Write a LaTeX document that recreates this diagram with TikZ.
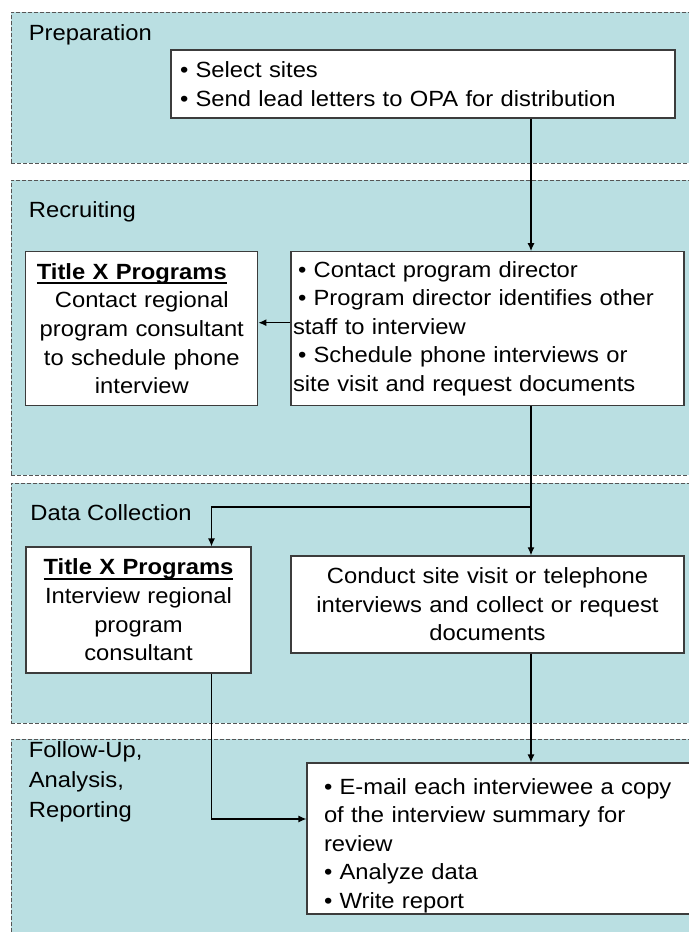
\documentclass[tikz,border=0pt]{standalone}
\usepackage{fontspec}
\setmainfont{Liberation Sans}[FakeStretch=1.08]
\usetikzlibrary{arrows.meta, positioning}
\definecolor{lanefill}{RGB}{186,223,226}
\definecolor{laneline}{RGB}{85,85,85}
\definecolor{boxline}{RGB}{60,60,60}
\newcommand{\bul}{\hspace*{2.5pt}\textbullet\ }
\newcommand{\progtitle}{\setbox0\hbox{\textbf{Title X Programs}}\rlap{\rule[-2.35pt]{\wd0}{1pt}}\box0}

\begin{document}
\begin{tikzpicture}[
    x=0.5pt, y=-0.5pt,
    lane/.style={draw=laneline, line width=0.5pt, dash pattern=on 2pt off 1pt, fill=lanefill, anchor=north west, minimum width=347pt, inner sep=0pt, outer sep=0pt},
    lanelabel/.style={anchor=base west, inner sep=0pt, align=left, font=\fontsize{11}{15}\selectfont},
    box/.style={draw=boxline, line width=0.6pt, fill=white, inner ysep=0pt, font=\fontsize{11}{14.3}\selectfont},
    arrow/.style={-{Latex[length=4pt, width=3.5pt]}, line width=0.6pt}
  ]
  \clip (0,0) rectangle (689,932);

  % swim lanes
  \node[lane, minimum height=75.5pt] (prepLane) at (11,12) {};
  \node[lane, minimum height=147.5pt] (recLane) at (11,180) {};
  \node[lane, minimum height=120pt] (dataLane) at (11,483) {};
  \node[lane, minimum height=105.5pt] (followLane) at (11,739) {};

  \node[lanelabel] (prepLbl) at (28.5,40) {Preparation};
  \node[lanelabel] (recLbl) at (28.5,217) {Recruiting};
  \node[lanelabel] (dataLbl) at (30,520) {Data Collection};
  \node[lanelabel] (followLbl) at (28.5,817) {Follow-Up,\\Analysis,\\Reporting};

  % steps
  \node[box, text width=243pt, inner xsep=4.5pt, minimum height=34pt, align=left] (prep) at (423,84)
    {\textbullet\ Select sites\\\textbullet\ Send lead letters to OPA for distribution};
  \node[box, text width=194.5pt, inner xsep=1pt, minimum height=77pt, align=left] (recRight) at (487.5,328.7)
    {\bul Contact program director\\\bul Program director identifies other\\staff to interview\\\bul Schedule phone interviews or\\site visit and request documents};
  \node[box, text width=110pt, inner xsep=3pt, minimum height=77pt, align=center, left=16pt of recRight] (recLeft)
    {\progtitle\kern10pt\\Contact regional\\program consultant\\to schedule phone\\interview};
  \node[box, text width=190.5pt, inner xsep=3pt, minimum height=48.5pt, align=center, below=74.5pt of recRight] (dataRight)
    {Conduct site visit or telephone\\interviews and collect or request\\documents};
  \node[box, text width=106.5pt, inner xsep=3pt, minimum height=63pt, align=center] (dataLeft) at (138.5,610)
    {\progtitle\\Interview regional\\program\\consultant};
  \node[box, text width=182pt, inner xsep=8.5pt, minimum height=75.5pt, align=left] (follow) at (506,838.5)
    {\rule{0pt}{15pt}\textbullet\ E-mail each interviewee a copy\\of the interview summary for\\review\\\textbullet\ Analyze data\\\textbullet\ Write report};

  \coordinate (spine) at (531,0);
  \coordinate (split) at (531,507);
  \coordinate (leftRail) at (211.5,0);

  % flow
  \draw[arrow] (prep.south -| spine) -- (recRight.north -| spine);
  \draw[arrow] ([yshift=3pt]recRight.west) -- ([yshift=3pt]recLeft.east);
  \draw[arrow] (recRight.south -| spine) -- (dataRight.north -| spine);
  \draw[arrow] (split) -| (dataLeft.north -| leftRail);
  \draw[arrow] (dataRight.south -| spine) -- (follow.north -| spine);
  \draw[arrow] (dataLeft.south -| leftRail) |- ([yshift=9.75pt]follow.west);
\end{tikzpicture}
\end{document}
